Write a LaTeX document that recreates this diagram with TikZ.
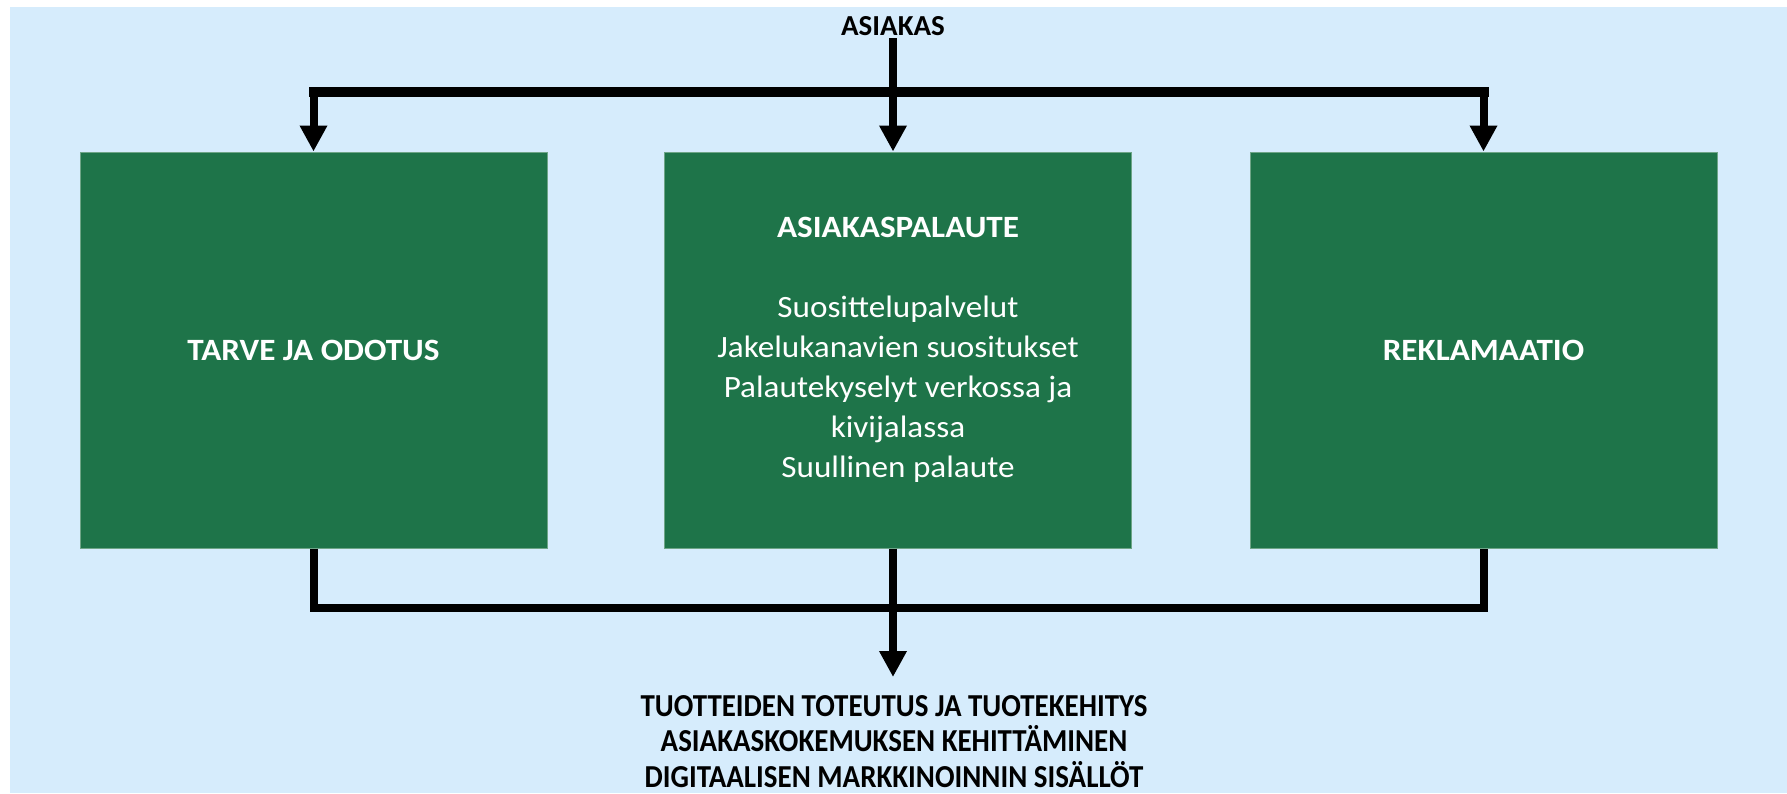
\documentclass[tikz,border=0pt]{standalone}
\usepackage{fontspec}
\setmainfont{Carlito}
\newfontfamily\leveafont{Carlito}[FakeStretch=1.07]
\newfontfamily\kapeafont{Carlito}[FakeStretch=0.905]
\usetikzlibrary{arrows.meta}

\definecolor{tausta}{RGB}{214,236,252}
\definecolor{vihrea}{RGB}{30,116,73}
\definecolor{reuna}{RGB}{110,165,135}

\tikzset{
  laatikko/.style={fill=vihrea, draw=reuna, line width=1pt, minimum width=467pt,
    minimum height=396pt, inner sep=0pt, text=white, align=center,
    font=\leveafont\fontsize{31}{40}\selectfont},
  yhteys/.style={line width=8pt},
  palkki/.style={line width=10pt, line cap=rect},
  nuoli/.style={line width=8pt, -{Triangle[width=26pt,length=26pt]}},
}

\begin{document}
\begin{tikzpicture}[x=1pt,y=-1pt]
\useasboundingbox (0,0) rectangle (1787,793);
\fill[tausta] (10,7) rectangle (1787,793);

\node[laatikko] (tarve) at (313.5,350) {\bfseries TARVE JA ODOTUS};
\node[laatikko] (palaute) at (898,350) {\bfseries ASIAKASPALAUTE\\[40pt]
  Suosittelupalvelut\\ Jakelukanavien suositukset\\ Palautekyselyt verkossa ja\\
  kivijalassa\\ Suullinen palaute};
\node[laatikko] (reklama) at (1483.5,350) {\bfseries REKLAMAATIO};

\node[anchor=base, inner sep=3pt, font=\fontsize{29}{34}\selectfont\bfseries] (asiakas) at (893,35) {ASIAKAS};
\node[anchor=north, inner xsep=0pt, inner ysep=18pt, align=center,
  font=\kapeafont\fontsize{32}{35.5}\selectfont\bfseries] (tulos) at (894,677)
  {TUOTTEIDEN TOTEUTUS JA TUOTEKEHITYS\\ ASIAKASKOKEMUKSEN KEHITTÄMINEN\\ DIGITAALISEN MARKKINOINNIN SISÄLLÖT};

\coordinate (haara) at (893,92);
\coordinate (kokoa) at (893,608);

\draw[yhteys] (asiakas.south) -- (haara);
\draw[palkki] (tarve.north |- haara) -- (reklama.north |- haara);
\draw[nuoli] (tarve.north |- haara) -- (tarve.north);
\draw[nuoli] (haara) -- (haara |- palaute.north);
\draw[nuoli] (reklama.north |- haara) -- (reklama.north);

\draw[yhteys] (tarve.south) |- (kokoa) -| (reklama.south);
\draw[nuoli] (kokoa |- palaute.south) -- (kokoa |- tulos.north);
\end{tikzpicture}
\end{document}
